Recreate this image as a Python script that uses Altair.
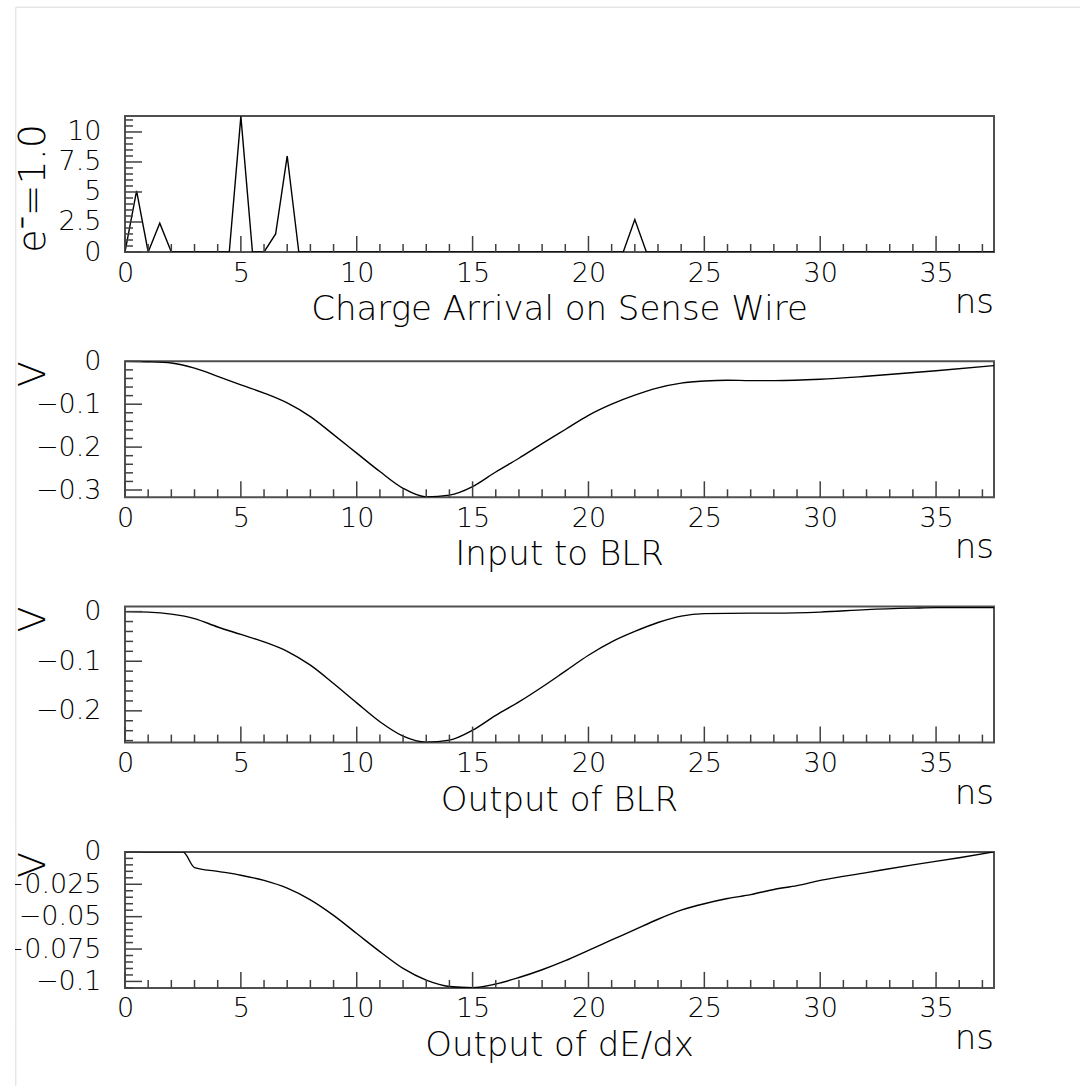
import altair as alt
import pandas as pd

# ---------------- data ----------------
# Panel 1: charge arrival on sense wire (e- = 1.0)
T1 = [0, 0.5, 1, 1.5, 2, 4.5, 5, 5.5, 6, 6.5, 7, 7.5, 21.5, 22, 22.5, 37.5]
Q1 = [0, 5.1, 0, 2.4, 0, 0, 11.3, 0, 0, 1.5, 8.0, 0, 0, 2.7, 0, 0]

# Panel 2: input to BLR (V)
T2 = [0, 1, 2, 3, 4, 5, 6, 7, 8, 9, 10, 11, 12, 13, 14, 15, 16, 17, 18, 19, 20,
      21, 22, 23, 24, 25, 26, 27, 28, 30, 32, 35, 37.5]
V2 = [0, -0.001, -0.004, -0.016, -0.035, -0.055, -0.074, -0.097, -0.129, -0.171,
      -0.214, -0.257, -0.296, -0.316, -0.312, -0.292, -0.258, -0.226, -0.192,
      -0.159, -0.126, -0.100, -0.079, -0.062, -0.051, -0.046, -0.044, -0.045,
      -0.045, -0.042, -0.035, -0.022, -0.010]

# Panel 3: output of BLR (V)
T3 = [0, 1, 2, 3, 4, 5, 6, 7, 8, 9, 10, 11, 12, 13, 14, 15, 16, 17, 18, 19, 20,
      21, 22, 23, 24, 25, 27, 28, 30, 32, 34, 35, 37.5]
V3 = [0, -0.001, -0.005, -0.014, -0.031, -0.046, -0.061, -0.080, -0.108, -0.145,
      -0.184, -0.222, -0.251, -0.263, -0.259, -0.239, -0.209, -0.182, -0.152,
      -0.120, -0.088, -0.061, -0.040, -0.022, -0.009, -0.004, -0.003, -0.003,
      -0.001, 0.004, 0.007, 0.008, 0.008]

# Panel 4: output of dE/dx (V)
T4 = [0, 2.5, 3, 4, 5, 6, 7, 8, 9, 10, 11, 12, 13, 14, 15, 16, 17, 18, 19, 20,
      21, 22, 23, 24, 25, 26, 27, 28, 29, 30, 32, 34, 36, 37.5]
V4 = [0, 0, -0.0121, -0.015, -0.018, -0.022, -0.028, -0.037, -0.049, -0.063,
      -0.077, -0.090, -0.099, -0.1039, -0.1048, -0.102, -0.097, -0.091, -0.084,
      -0.076, -0.068, -0.060, -0.052, -0.045, -0.040, -0.036, -0.033, -0.029,
      -0.026, -0.022, -0.016, -0.010, -0.0045, 0]

X_TITLES = ["Charge Arrival on Sense Wire", "Input to BLR", "Output of BLR", "Output of dE/dx"]
Y_TITLES = ["e\u207b=1.0", "V", "V", "V"]
X_UNIT = "ns"
INTERP = ["linear", "monotone", "monotone", "monotone"]

X_DOMAIN = [0, 37.5]
Y_DOMAINS = [[0, 11.33], [-0.317, 0], [-0.264, 0.0101], [-0.105, 0]]

X_MAJOR = [0, 5, 10, 15, 20, 25, 30, 35]
X_MINOR = [1, 2, 3, 4, 6, 7, 8, 9, 11, 12, 13, 14, 16, 17, 18, 19, 21, 22, 23, 24,
           26, 27, 28, 29, 31, 32, 33, 34, 36, 37]
Y_MAJORS = [[0, 2.5, 5, 7.5, 10],
            [0, -0.1, -0.2, -0.3],
            [0, -0.1, -0.2],
            [0, -0.025, -0.05, -0.075, -0.1]]
Y_MINOR_STEP = [0.5, 0.02, 0.02, 0.005]

# ---------------- style ----------------
FONT = "DejaVu Sans"
W, H = 869, 136
FRAME = "#505050"
TICK = "#404040"
TITLE_SIZE = 34
LABEL_SIZE = 27


def minors(dom, majors, step):
    lo, hi = min(dom), max(dom)
    out = []
    k = int(round(lo / step)) - 1
    while k * step <= hi + 1e-9:
        v = round(k * step, 6)
        if lo - 1e-9 <= v <= hi + 1e-9 and all(abs(v - m) > 1e-9 for m in majors):
            out.append(v)
        k += 1
    return out


def panel(i, t, v):
    ydom = Y_DOMAINS[i]
    ymaj = Y_MAJORS[i]
    ymin = minors(ydom, ymaj, Y_MINOR_STEP[i])
    xs = alt.Scale(domain=X_DOMAIN, nice=False, zero=False)
    ys = alt.Scale(domain=ydom, nice=False, zero=False)
    xaxis = alt.Axis(values=X_MAJOR, format=".6~g", title=None, ticks=False, tickSize=0,
                     domain=False, grid=False, labelPadding=8, labelFlush=False,
                     labelOverlap=False)
    yaxis = alt.Axis(values=ymaj, format=".6~g", title=None, ticks=False, tickSize=0,
                     domain=False, grid=False, labelPadding=24, labelFlush=False,
                     labelOverlap=False)
    X = lambda: alt.X("x:Q", scale=xs, axis=xaxis)
    Y = lambda: alt.Y("y:Q", scale=ys, axis=yaxis)

    line = alt.Chart(pd.DataFrame({"x": t, "y": v})).mark_line(
        color="black", strokeWidth=1.4, clip=True, interpolate=INTERP[i]).encode(x=X(), y=Y())
    xmaj = alt.Chart(pd.DataFrame({"x": X_MAJOR})).mark_rule(
        color=TICK, strokeWidth=1.5).encode(x=X(), y=alt.value(H), y2=alt.value(H - 16))
    xmin = alt.Chart(pd.DataFrame({"x": X_MINOR})).mark_rule(
        color=TICK, strokeWidth=1.5).encode(x=X(), y=alt.value(H), y2=alt.value(H - 8))
    ymj = alt.Chart(pd.DataFrame({"y": ymaj})).mark_rule(
        color=TICK, strokeWidth=1.5).encode(y=Y(), x=alt.value(0), x2=alt.value(17))
    ymn = alt.Chart(pd.DataFrame({"y": ymin})).mark_rule(
        color=TICK, strokeWidth=1.5).encode(y=Y(), x=alt.value(0), x2=alt.value(8))
    txt = dict(font=FONT, fontSize=TITLE_SIZE, fontWeight=200, color="black")
    xt = alt.Chart(pd.DataFrame({"t": [X_TITLES[i]]})).mark_text(
        align="center", baseline="alphabetic", **txt).encode(
        text="t:N", x=alt.value(W / 2), y=alt.value(H + 68))
    ns = alt.Chart(pd.DataFrame({"t": [X_UNIT]})).mark_text(
        align="right", baseline="alphabetic", **txt).encode(
        text="t:N", x=alt.value(W), y=alt.value(H + 61))
    ytxt = dict(txt, fontSize=38)
    yt = alt.Chart(pd.DataFrame({"t": [Y_TITLES[i]]})).mark_text(
        align="right", baseline="middle", angle=270, **ytxt).encode(
        text="t:N", x=alt.value(-91), y=alt.value(8 if i == 0 else 0))
    layers = [line, xmaj, xmin, ymj, ymn, xt, ns, yt]
    one = pd.DataFrame({"a": [0]})
    if i == 0:
        # page anchor (white) and the light frame of the page
        layers.append(alt.Chart(one).mark_rect(color="white").encode(
            x=alt.value(-123.3), x2=alt.value(-111), y=alt.value(-114.7), y2=alt.value(-111)))
        layers.append(alt.Chart(one).mark_rule(color="#e6e6e6", strokeWidth=1.5).encode(
            x=alt.value(-109.3), y=alt.value(-108.7), y2=alt.value(970)))
        layers.append(alt.Chart(one).mark_rule(color="#e6e6e6", strokeWidth=1.5).encode(
            x=alt.value(-109.3), x2=alt.value(955), y=alt.value(-108.7)))
    if i == 3:
        layers.append(alt.Chart(one).mark_rect(color="white").encode(
            x=alt.value(-123.3), x2=alt.value(-110), y=alt.value(-25), y2=alt.value(170)))
    return alt.layer(*layers).properties(width=W, height=H)


panels = [panel(0, T1, Q1), panel(1, T2, V2), panel(2, T3, V3), panel(3, T4, V4)]

chart = alt.vconcat(*panels, spacing=109.3, bounds="flush").configure_view(
    stroke=FRAME, strokeWidth=2
).configure_axis(
    labelFont=FONT, labelFontSize=LABEL_SIZE, labelColor="black", labelFontWeight=200
).properties(padding=0, background="white")

chart.save("out.html", embed_options={"renderer": "svg", "actions": False})
